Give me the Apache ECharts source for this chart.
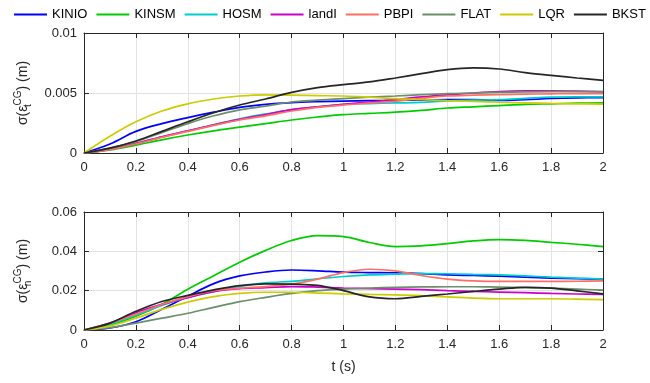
<!DOCTYPE html>
<html>
<head>
<meta charset="utf-8">
<script src="https://cdn.jsdelivr.net/npm/echarts@6/dist/echarts.min.js"></script>
<style>html,body{margin:0;padding:0;background:#fff}#c{width:650px;height:383px}</style>
</head>
<body>
<div id="c"></div>
<script>
const names = ['KINIO','KINSM','HOSM','landI','PBPI','FLAT','LQR','BKST'];
const colors = ['#0000ff','#00cc00','#00cccc','#cc00cc','#ff6e64','#6a8f6a','#cccc00','#262626'];
const t = [0,0.1,0.2,0.3,0.4,0.5,0.6,0.7,0.8,0.9,1.0,1.1,1.2,1.3,1.4,1.5,1.6,1.7,1.8,1.9,2.0];
const xTicks = [0,0.2,0.4,0.6,0.8,1,1.2,1.4,1.6,1.8,2];
const yTicksTop = [0,0.005,0.01];
const yTicksBottom = [0,0.02,0.04,0.06];

// sigma(eps_t^CG) (m)
const KINIO_t = [0,0.00075,0.0018,0.00245,0.00295,0.0034,0.0038,0.00405,0.0042,0.00428,0.00433,0.00436,0.00439,0.00441,0.00444,0.00444,0.00438,0.00445,0.00455,0.0046,0.00461];
const KINSM_t = [0,0.00025,0.00065,0.0011,0.0015,0.00185,0.00215,0.00245,0.00275,0.003,0.0032,0.0033,0.0034,0.00355,0.00375,0.00385,0.00395,0.00405,0.0041,0.00415,0.00417];
const HOSM_t = [0,0.0003,0.0008,0.00135,0.00185,0.00235,0.00285,0.00325,0.0036,0.00385,0.00406,0.00412,0.00417,0.00422,0.00435,0.0044,0.00445,0.00455,0.00465,0.00467,0.00467];
const landI_t = [0,0.0003,0.0008,0.00135,0.00185,0.00235,0.0028,0.0032,0.00362,0.00385,0.00406,0.00425,0.00445,0.00467,0.00485,0.005,0.00512,0.00517,0.00517,0.00515,0.00512];
const PBPI_t = [0,0.00028,0.00075,0.0013,0.0018,0.0023,0.00275,0.0031,0.0035,0.0038,0.004,0.00415,0.00433,0.00455,0.00475,0.00482,0.00486,0.0049,0.00493,0.00495,0.00495];
const FLAT_t = [0,0.0004,0.00095,0.0017,0.00245,0.0031,0.0036,0.0039,0.00425,0.0044,0.00453,0.00465,0.00475,0.00486,0.00495,0.005,0.00506,0.00509,0.00511,0.00511,0.0051];
const LQR_t = [0,0.0014,0.0026,0.0035,0.0041,0.0045,0.00475,0.00485,0.00482,0.00478,0.00475,0.00465,0.00453,0.00445,0.00437,0.0043,0.00423,0.00418,0.00413,0.0041,0.00408];
const BKST_t = [0,0.0004,0.001,0.0018,0.0026,0.00335,0.004,0.0045,0.00505,0.00545,0.0057,0.00592,0.00625,0.00661,0.00695,0.00709,0.007,0.0067,0.00647,0.00625,0.00606];

// sigma(eps_n^CG) (m)
const KINIO_n = [0,0.001,0.0042,0.0105,0.0172,0.0236,0.0275,0.0295,0.0305,0.0301,0.0294,0.0292,0.0291,0.0287,0.028,0.0277,0.0274,0.0269,0.0264,0.0261,0.0259];
const KINSM_n = [0,0.0025,0.007,0.013,0.0207,0.0276,0.0345,0.0405,0.0455,0.048,0.0475,0.0445,0.0424,0.0428,0.0439,0.0453,0.046,0.0456,0.0446,0.0436,0.0424];
const HOSM_n = [0,0.003,0.0075,0.0125,0.0165,0.0195,0.0221,0.024,0.0247,0.026,0.0272,0.028,0.0284,0.0287,0.0286,0.0283,0.028,0.0275,0.0269,0.0264,0.0259];
const landI_n = [0,0.0035,0.0088,0.013,0.0165,0.0195,0.021,0.0215,0.0221,0.0218,0.0213,0.021,0.0208,0.0205,0.02,0.0196,0.0193,0.019,0.0186,0.0183,0.0181];
const PBPI_n = [0,0.0035,0.008,0.013,0.017,0.02,0.0213,0.0221,0.0233,0.0259,0.0292,0.0309,0.0301,0.0277,0.0259,0.025,0.0247,0.0247,0.0247,0.0248,0.025];
const FLAT_n = [0,0.0012,0.0035,0.006,0.0085,0.0115,0.0144,0.0166,0.0186,0.02,0.0208,0.0213,0.0217,0.0219,0.022,0.022,0.0218,0.0216,0.0213,0.0208,0.0203];
const LQR_n = [0,0.002,0.006,0.0105,0.0142,0.017,0.0186,0.0192,0.0192,0.0188,0.0184,0.0181,0.0179,0.0175,0.0168,0.0162,0.0159,0.0159,0.0159,0.0157,0.0154];
const BKST_n = [0,0.0035,0.0095,0.0145,0.0176,0.0204,0.0226,0.0235,0.0233,0.0227,0.02,0.0168,0.0159,0.0171,0.0183,0.0196,0.0208,0.0217,0.0213,0.0199,0.0184];

const topSets = [KINIO_t,KINSM_t,HOSM_t,landI_t,PBPI_t,FLAT_t,LQR_t,BKST_t];
const botSets = [KINIO_n,KINSM_n,HOSM_n,landI_n,PBPI_n,FLAT_n,LQR_n,BKST_n];

const FONT = 'Liberation Sans, Arial, Helvetica, sans-serif';
const AX = '#262626';
const GRID = '#e3e3e3';

function mainX(gi, showName) {
  return {
    type:'value', gridIndex:gi, min:0, max:2, interval:0.2,
    axisLine:{show:true, onZero:false, lineStyle:{color:AX, width:1}},
    axisTick:{show:true, inside:true, length:5, lineStyle:{color:AX}},
    axisLabel:{color:AX, fontSize:13, fontFamily:FONT, margin:8},
    splitLine:{show:true, lineStyle:{color:GRID, width:1}},
    name: showName ? 't (s)' : '', nameLocation:'middle', nameGap:30,
    nameTextStyle:{color:AX, fontSize:14, fontFamily:FONT}
  };
}
function boxX(gi) {
  return {
    type:'value', gridIndex:gi, position:'top', min:0, max:2, interval:0.2,
    axisLine:{show:true, onZero:false, lineStyle:{color:AX, width:1}},
    axisTick:{show:true, inside:true, length:5, lineStyle:{color:AX}},
    axisLabel:{show:false}, splitLine:{show:false}
  };
}
function mainY(gi, max, interval, sub) {
  return {
    type:'value', gridIndex:gi, min:0, max:max, interval:interval,
    axisLine:{show:true, onZero:false, lineStyle:{color:AX, width:1}},
    axisTick:{show:true, inside:true, length:5, lineStyle:{color:AX}},
    axisLabel:{color:AX, fontSize:13, fontFamily:FONT, margin:7},
    splitLine:{show:true, lineStyle:{color:GRID, width:1}},
    name:'{a|σ(ε}{s|' + sub + '}{p|CG}{a|) (m)}',
    nameLocation:'middle', nameGap:50, nameRotate:90,
    nameTextStyle:{
      rich:{
        a:{fontSize:14, fontFamily:FONT, color:AX},
        s:{fontSize:10, fontFamily:FONT, color:AX, width:0.1, padding:[10,0,0,0]},
        p:{fontSize:10, fontFamily:FONT, color:AX, padding:[0,0,11,0]}
      }
    }
  };
}
function boxY(gi, max, interval) {
  return {
    type:'value', gridIndex:gi, position:'right', min:0, max:max, interval:interval,
    axisLine:{show:true, onZero:false, lineStyle:{color:AX, width:1}},
    axisTick:{show:true, inside:true, length:5, lineStyle:{color:AX}},
    axisLabel:{show:false}, splitLine:{show:false}
  };
}

const series = [];
names.forEach((n, i) => {
  series.push({
    name:n, type:'line', xAxisIndex:0, yAxisIndex:0,
    data:t.map((x, k) => [x, topSets[i][k]]),
    smooth:0.35, showSymbol:false, symbol:'none',
    lineStyle:{color:colors[i], width:1.7}, itemStyle:{color:colors[i]},
    z:2+i
  });
  series.push({
    name:n, type:'line', xAxisIndex:2, yAxisIndex:2,
    data:t.map((x, k) => [x, botSets[i][k]]),
    smooth:0.35, showSymbol:false, symbol:'none',
    lineStyle:{color:colors[i], width:1.7}, itemStyle:{color:colors[i]},
    z:2+i
  });
});

const chart = echarts.init(document.getElementById('c'), null, {renderer:'canvas'});
chart.setOption({
  animation:false,
  backgroundColor:'#fff',
  legend:{
    data:names, left:14, top:8, width:645, padding:0, icon:'rect', itemWidth:33, itemHeight:2, itemGap:9,
    selectedMode:false,
    textStyle:{color:'#000', fontSize:13, fontFamily:FONT}
  },
  grid:[
    {left:84, right:47, top:33, height:120, containLabel:false},
    {left:84, right:47, top:212, height:118, containLabel:false}
  ],
  xAxis:[mainX(0,false), boxX(0), mainX(1,true), boxX(1)],
  yAxis:[mainY(0,0.01,0.005,'t'), boxY(0,0.01,0.005), mainY(1,0.06,0.02,'n'), boxY(1,0.06,0.02)],
  series:series
});
</script>
</body>
</html>
